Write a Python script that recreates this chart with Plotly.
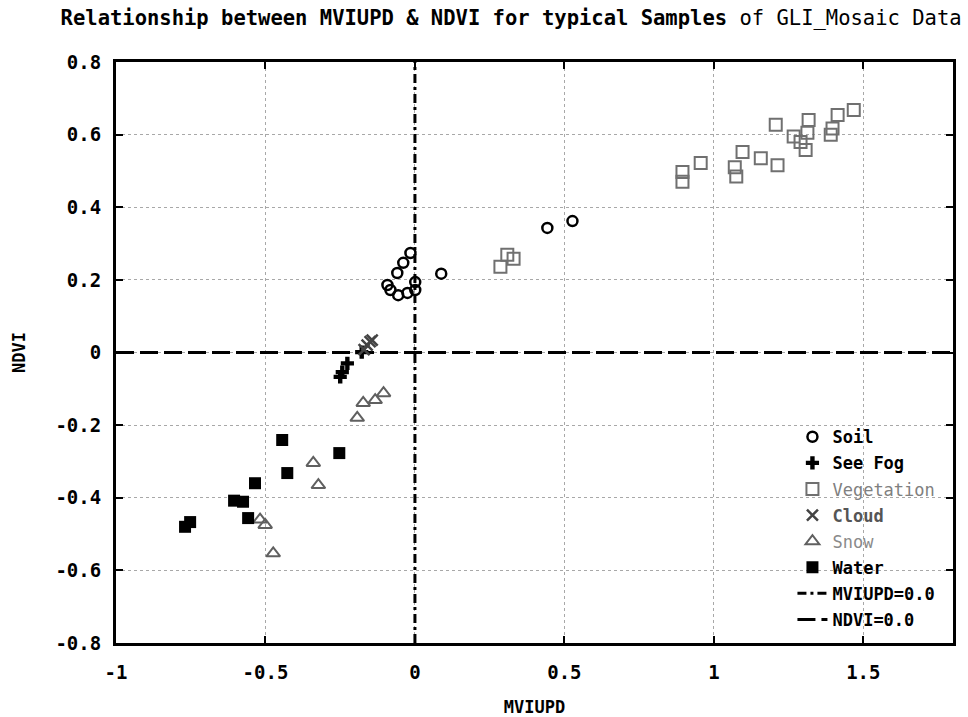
import plotly.graph_objects as go

# ---- data ----
soil_x = [-0.092, -0.082, -0.056, -0.025, 0.001, 0.001, -0.059, -0.039, -0.015, 0.088, 0.443, 0.527]
soil_y = [0.186, 0.172, 0.158, 0.164, 0.172, 0.194, 0.219, 0.247, 0.274, 0.217, 0.343, 0.362]

fog_x = [-0.250, -0.243, -0.226, -0.178]
fog_y = [-0.067, -0.054, -0.030, 0.001]

veg_x = [0.286, 0.309, 0.330, 0.895, 0.895, 0.956, 1.070, 1.075, 1.096, 1.157, 1.213, 1.207,
         1.267, 1.290, 1.307, 1.313, 1.317, 1.391, 1.397, 1.414, 1.468]
veg_y = [0.236, 0.269, 0.258, 0.497, 0.470, 0.522, 0.510, 0.485, 0.552, 0.535, 0.516, 0.627,
         0.595, 0.580, 0.558, 0.605, 0.640, 0.600, 0.617, 0.654, 0.668]

cloud_x = [-0.170, -0.160, -0.150, -0.143]
cloud_y = [0.008, 0.020, 0.030, 0.034]

snow_x = [-0.193, -0.173, -0.133, -0.105, -0.340, -0.323, -0.518, -0.501, -0.474]
snow_y = [-0.180, -0.139, -0.131, -0.112, -0.304, -0.365, -0.460, -0.475, -0.553]

water_x = [-0.444, -0.427, -0.253, -0.535, -0.605, -0.575, -0.558, -0.769, -0.752]
water_y = [-0.241, -0.332, -0.277, -0.360, -0.408, -0.411, -0.456, -0.480, -0.467]

# reference lines MVIUPD = 0.0 and NDVI = 0.0
mviupd_zero = 0.0
ndvi_zero = 0.0
x_range = [-1.0, 1.8]
y_range = [-0.8, 0.8]

x_ticks = [-1, -0.5, 0, 0.5, 1, 1.5]
x_ticktext = ["-1", "-0.5", "0", "0.5", "1", "1.5"]
y_ticks = [-0.8, -0.6, -0.4, -0.2, 0, 0.2, 0.4, 0.6, 0.8]
y_ticktext = ["-0.8", "-0.6", "-0.4", "-0.2", "0", "0.2", "0.4", "0.6", "0.8"]

FONT = "DejaVu Sans Mono"

fig = go.Figure()

fig.add_trace(go.Scatter(
    x=[mviupd_zero, mviupd_zero], y=y_range, mode="lines",
    name="<b>MVIUPD=0.0</b>", legendgroup="g7", legendrank=7,
    line=dict(color="black", width=3, dash="9px,4px,3px,4px")))
fig.add_trace(go.Scatter(
    x=x_range, y=[ndvi_zero, ndvi_zero], mode="lines",
    name="<b>NDVI=0.0</b>", legendgroup="g8", legendrank=8,
    line=dict(color="black", width=3, dash="18px,6px")))

fig.add_trace(go.Scatter(
    x=soil_x, y=soil_y, mode="markers", name="<b>Soil</b>", legendgroup="g1", legendrank=1,
    marker=dict(symbol="circle-open", size=10, color="black", line=dict(width=2.5))))
fig.add_trace(go.Scatter(
    x=fog_x, y=fog_y, mode="markers", name="<b>See Fog</b>", legendgroup="g2", legendrank=2,
    marker=dict(symbol="cross", size=11, color="black", line=dict(width=0))))
fig.add_trace(go.Scatter(
    x=veg_x, y=veg_y, mode="markers",
    name="<span style='color:#808080'>Vegetation</span>", legendgroup="g3", legendrank=3,
    marker=dict(symbol="square-open", size=12, color="#707070", line=dict(width=2))))
fig.add_trace(go.Scatter(
    x=cloud_x, y=cloud_y, mode="markers",
    name="<span style='color:#555555'><b>Cloud</b></span>", legendgroup="g4", legendrank=4,
    marker=dict(symbol="x-thin-open", size=11, color="#444444", line=dict(width=2.5))))
fig.add_trace(go.Scatter(
    x=snow_x, y=snow_y, mode="markers",
    name="<span style='color:#8a8a8a'>Snow</span>", legendgroup="g5", legendrank=5,
    marker=dict(symbol="triangle-up-open", size=12, color="#606060", line=dict(width=2))))
fig.add_trace(go.Scatter(
    x=water_x, y=water_y, mode="markers", name="<b>Water</b>", legendgroup="g6", legendrank=6,
    marker=dict(symbol="square", size=12, color="black", line=dict(width=0))))

axis_common = dict(
    showline=True, linecolor="black", linewidth=3, mirror="ticks",
    ticks="inside", ticklen=7, tickwidth=2, tickcolor="black",
    showgrid=True, gridcolor="#a8a8a8", gridwidth=1, griddash="dot",
    zeroline=False, automargin=False,
    tickfont=dict(family=FONT, size=19, color="black", weight="bold"),
)

fig.update_xaxes(range=x_range, tickvals=x_ticks, ticktext=x_ticktext, ticklabelstandoff=10,
                 title=dict(text="<b>MVIUPD</b>", font=dict(family=FONT, size=17, color="black"),
                            standoff=20),
                 **axis_common)
fig.update_yaxes(range=y_range, tickvals=y_ticks, ticktext=y_ticktext, ticklabelstandoff=8,
                 title=dict(text="<b>NDVI</b>", font=dict(family=FONT, size=17, color="black"),
                            standoff=26),
                 **axis_common)

fig.update_layout(
    width=968, height=717,
    margin=dict(l=116, r=15, t=62, b=74),
    paper_bgcolor="white", plot_bgcolor="white",
    title=dict(text="<b>Relationship between MVIUPD &amp; NDVI for typical Samples</b> of GLI_Mosaic Data",
               x=0.528, xanchor="center", y=0.975, yanchor="middle",
               font=dict(family=FONT, size=20.5, color="black")),
    legend=dict(x=0.985, xanchor="right", y=0.01, yanchor="bottom",
                bgcolor="rgba(0,0,0,0)", tracegroupgap=1,
                font=dict(family=FONT, size=17, color="black")),
    showlegend=True,
)

fig.write_html("out.html")
